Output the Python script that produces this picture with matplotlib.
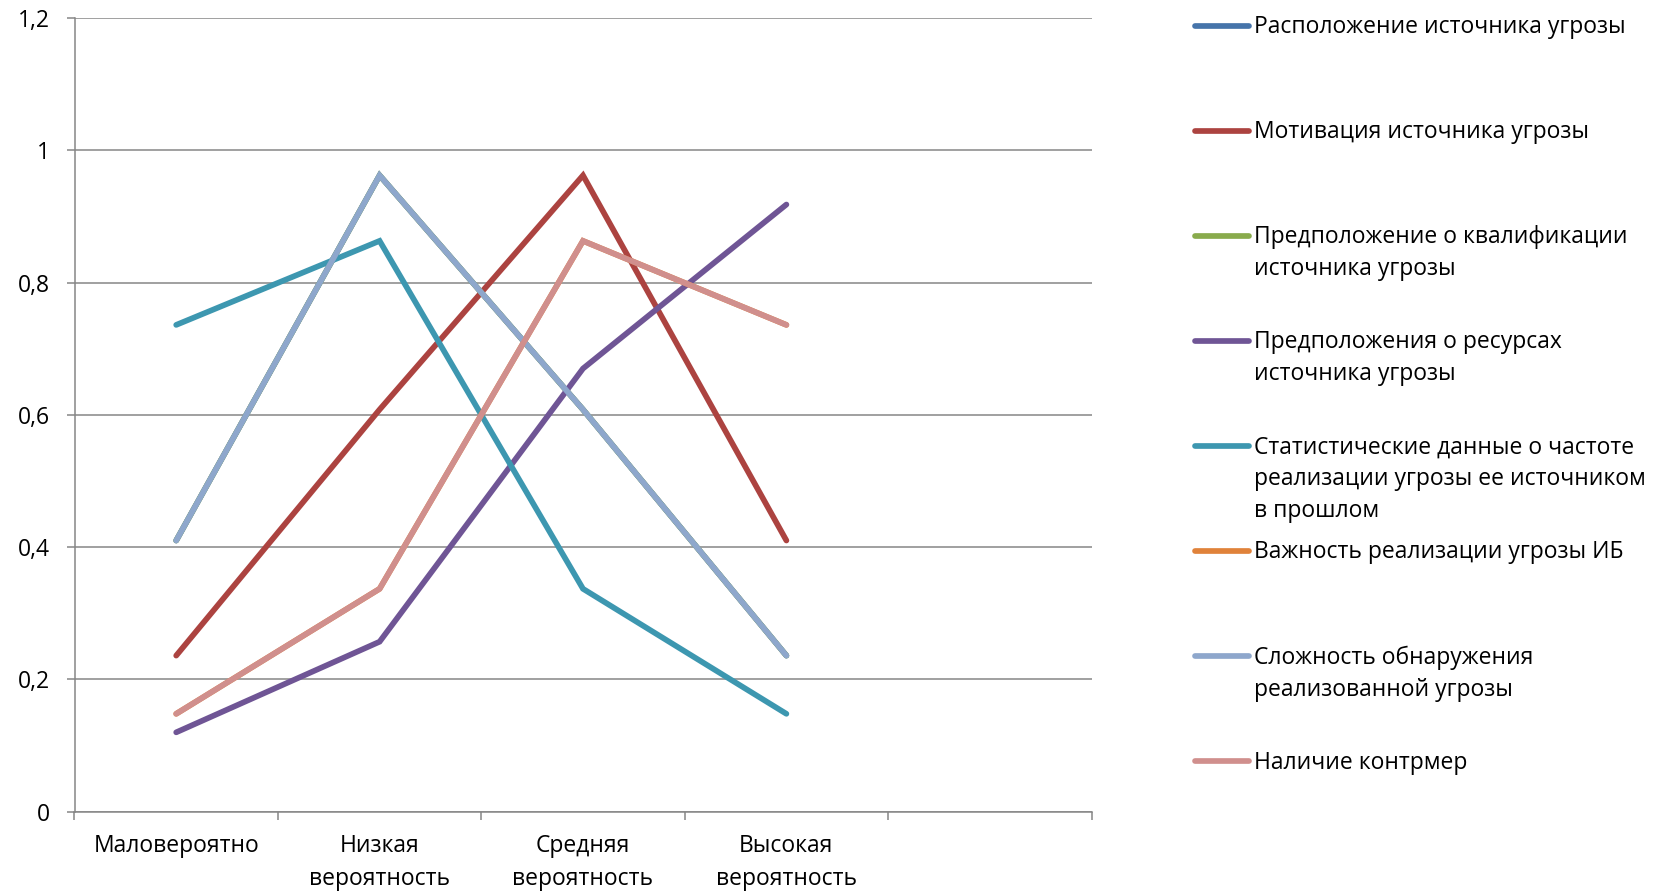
import matplotlib
matplotlib.use("Agg")
import matplotlib.pyplot as plt
from matplotlib.lines import Line2D
from matplotlib.ticker import FuncFormatter, MultipleLocator

plt.rcParams['font.family'] = ['Open Sans', 'DejaVu Sans']

categories = ['Маловероятно', 'Низкая\nвероятность', 'Средняя\nвероятность',
              'Высокая\nвероятность', '']

series_names = [
    'Расположение источника угрозы',
    'Мотивация источника угрозы',
    'Предположение о квалификации\nисточника угрозы',
    'Предположения о ресурсах\nисточника угрозы',
    'Статистические данные о частоте\nреализации угрозы ее источником\nв прошлом',
    'Важность реализации угрозы ИБ',
    'Сложность обнаружения\nреализованной угрозы',
    'Наличие контрмер',
]

# hidden series (blue, green, orange) lie under later ones
location = [0.41, 0.962, 0.608, 0.236]
motivation = [0.236, 0.608, 0.962, 0.41]
qualification = [0.41, 0.962, 0.608, 0.236]
resources = [0.12, 0.257, 0.67, 0.918]
statistics = [0.736, 0.863, 0.337, 0.148]
importance = [0.148, 0.337, 0.863, 0.736]
detection = [0.41, 0.962, 0.608, 0.236]
countermeasures = [0.148, 0.337, 0.863, 0.736]

series_values = [location, motivation, qualification, resources,
                 statistics, importance, detection, countermeasures]

colors = ['#4674AA', '#AC4340', '#89AB4C', '#6F5595',
          '#3D97B0', '#E0823A', '#8EA7CC', '#D08F8D']

W, H = 1668, 892
fig = plt.figure(figsize=(W / 100, H / 100), dpi=100)
ax = fig.add_axes([74.5 / W, 1 - 811.7 / H, (1091.5 - 74.5) / W, (811.7 - 18) / H])

x = list(range(len(location)))
for vals, c in zip(series_values, colors):
    ax.plot(x, vals, color=c, lw=4.1, solid_capstyle='round',
            solid_joinstyle='miter', zorder=3)

ax.set_xlim(-0.5, len(categories) - 0.5)
ax.set_ylim(0, 1.2)
ax.yaxis.set_major_locator(MultipleLocator(0.2))
ax.yaxis.set_major_formatter(FuncFormatter(lambda v, p: f"{round(v, 1):g}".replace('.', ',')))
ax.grid(axis='y', color='#868686', lw=1.1)
ax.set_axisbelow(True)

ax.set_xticks(range(len(categories)))
ax.set_xticklabels(categories, fontsize=16.5, linespacing=1.5)
ax.set_xticks([i - 0.5 for i in range(len(categories) + 1)], minor=True)
ax.tick_params(axis='x', which='major', length=0, pad=16)
ax.tick_params(axis='x', which='minor', length=5.5, color='#868686', width=1.1)
ax.tick_params(axis='y', length=5.5, color='#868686', width=1.1, pad=12, labelsize=16.5)

for s in ['top', 'right']:
    ax.spines[s].set_visible(False)
for s in ['left', 'bottom']:
    ax.spines[s].set_color('#868686')
    ax.spines[s].set_linewidth(1.1)

# legend drawn by hand to keep Excel-like spacing
for i, (name, c) in enumerate(zip(series_names, colors)):
    yc = 25.5 + i * 105.1
    fig.add_artist(Line2D([1195 / W, 1249 / W], [1 - yc / H, 1 - yc / H],
                          color=c, lw=4.1, solid_capstyle='round',
                          transform=fig.transFigure))
    for k, line in enumerate(name.split('\n')):
        fig.text(1254 / W, 1 - (yc + 7.5 + k * 32) / H, line,
                 fontsize=16.5, va='baseline', ha='left', color='black')

fig.savefig('out.png', dpi=100)
